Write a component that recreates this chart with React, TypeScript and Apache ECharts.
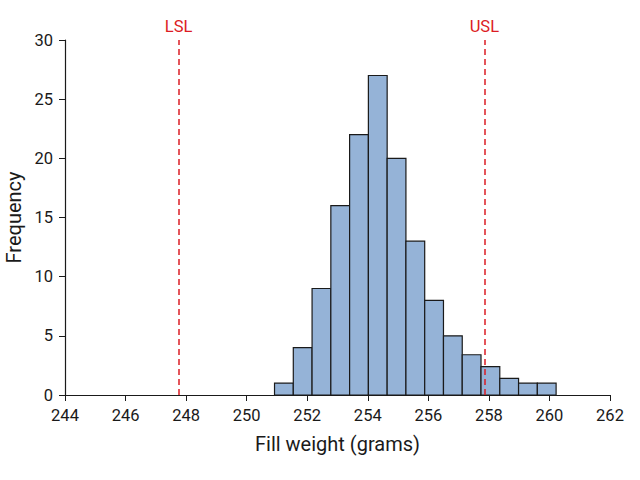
import { useEffect, useRef } from "react";
import * as echarts from "echarts";

// histogram bins (left edge, grams) and their counts
const binLeft = [
  250.92, 251.54, 252.16, 252.78, 253.4, 254.02, 254.64, 255.26, 255.88, 256.5,
  257.12, 257.74, 258.36, 258.98, 259.6,
];
const binWidth = 0.62;
const frequency = [1, 4, 9, 16, 22, 27, 20, 13, 8, 5, 3.4, 2.4, 1.4, 1, 1];

const specLimits = [
  { name: "LSL", value: 247.75 },
  { name: "USL", value: 257.85 },
];

const FONT = "Roboto, 'Noto Sans', sans-serif";
const INK = "#1a1a1a";
const RED = "#dc1c24";

export default function App() {
  const chartRef = useRef<HTMLDivElement>(null);

  useEffect(() => {
    if (!chartRef.current) return;
    document.body.style.margin = "0";
    const chart = echarts.init(chartRef.current, undefined, { renderer: "svg" });

    const data = binLeft.map((x, i) => [x, x + binWidth, frequency[i]]);

    chart.setOption({
      animation: false,
      grid: { left: 65, right: 30, top: 40, bottom: 85, outerBoundsMode: "none" },
      xAxis: {
        type: "value",
        min: 244,
        max: 262,
        interval: 2,
        name: "Fill weight (grams)",
        nameLocation: "middle",
        nameGap: 39,
        nameTextStyle: { fontSize: 20, color: INK, fontFamily: FONT },
        axisLine: { show: true, lineStyle: { color: INK, width: 1.2 } },
        axisTick: { show: true, length: 6, lineStyle: { color: INK } },
        axisLabel: { fontSize: 16.5, color: INK, fontFamily: FONT, margin: 12 },
        splitLine: { show: false },
      },
      yAxis: {
        type: "value",
        min: 0,
        max: 30,
        interval: 5,
        name: "Frequency",
        nameLocation: "middle",
        nameGap: 41,
        nameTextStyle: { fontSize: 20, color: INK, fontFamily: FONT },
        axisLine: { show: true, lineStyle: { color: INK, width: 1.2 } },
        axisTick: { show: true, length: 6, lineStyle: { color: INK } },
        axisLabel: { fontSize: 16.5, color: INK, fontFamily: FONT, margin: 12 },
        splitLine: { show: false },
      },
      series: [
        {
          type: "custom",
          data,
          renderItem: (params: any, api: any) => {
            const p0 = api.coord([api.value(0), 0]);
            const p1 = api.coord([api.value(1), api.value(2)]);
            return {
              type: "rect",
              shape: { x: p0[0], y: p1[1], width: p1[0] - p0[0], height: p0[1] - p1[1] },
              style: { fill: "#95b3d7", stroke: INK, lineWidth: 1.2 },
            };
          },
          markLine: {
            silent: true,
            symbol: "none",
            lineStyle: { color: RED, type: [6, 4], width: 1.5 },
            label: {
              show: true,
              position: "end",
              formatter: "{b}",
              color: RED,
              fontSize: 16.5,
              fontFamily: FONT,
              distance: 5,
            },
            data: specLimits.map((s) => ({ name: s.name, xAxis: s.value })),
          },
        },
      ],
    });

    return () => chart.dispose();
  }, []);

  return <div ref={chartRef} style={{ width: 640, height: 480 }} />;
}
